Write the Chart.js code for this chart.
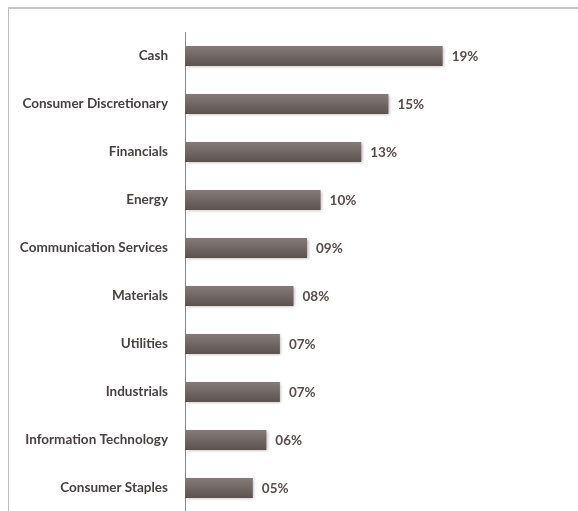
<!DOCTYPE html>
<html>
<head>
<meta charset="utf-8">
<script src="https://cdn.jsdelivr.net/npm/chart.js@4.4.1/dist/chart.umd.min.js"></script>
<style>
  html, body { margin: 0; padding: 0; background: #fff; overflow: hidden; }
  #wrap { position: absolute; left: 0; top: 0; width: 578px; height: 537px; }
  #frame {
    position: absolute; left: 8px; top: 7px; width: 570px; height: 530px;
    border-top: 2px solid #c6c6c6; border-left: 1px solid #bdbdbd;
    pointer-events: none;
  }
</style>
</head>
<body>
<div id="wrap"><canvas id="sectors" width="578" height="537"></canvas></div>
<div id="frame"></div>
<script>
  // Sector weights (%), top to bottom
  const sectors = [
    "Cash",
    "Consumer Discretionary",
    "Financials",
    "Energy",
    "Communication Services",
    "Materials",
    "Utilities",
    "Industrials",
    "Information Technology",
    "Consumer Staples",
  ];
  const weights = [19, 15, 13, 10, 9, 8, 7, 7, 6, 5];

  const FONT = "Lato, 'Open Sans', sans-serif";

  // Vertical gradient per bar, lighter on top
  function barFill(context) {
    const chart = context.chart;
    const yScale = chart.scales.y;
    if (!chart.chartArea || !yScale) return "#6f6563";
    const y = yScale.getPixelForValue(context.dataIndex);
    const g = chart.ctx.createLinearGradient(0, y - 10, 0, y + 10);
    g.addColorStop(0, "#857b78");
    g.addColorStop(1, "#5c5250");
    return g;
  }

  // Soft drop shadow under the bars
  const barShadow = {
    id: "barShadow",
    beforeDatasetDraw(chart) {
      const ctx = chart.ctx;
      ctx.save();
      ctx.shadowColor = "rgba(0, 0, 0, 0.28)";
      ctx.shadowBlur = 3;
      ctx.shadowOffsetX = 1.5;
      ctx.shadowOffsetY = 1.5;
    },
    afterDatasetDraw(chart) {
      chart.ctx.restore();
    },
  };

  // Percentage text at the end of each bar
  const valueLabels = {
    id: "valueLabels",
    afterDatasetsDraw(chart) {
      const ctx = chart.ctx;
      const meta = chart.getDatasetMeta(0);
      ctx.save();
      ctx.font = "bold 13.5px " + FONT;
      ctx.fillStyle = "#564c4b";
      ctx.textAlign = "left";
      ctx.textBaseline = "middle";
      meta.data.forEach((bar, i) => {
        const v = chart.data.datasets[0].data[i];
        ctx.fillText(String(v).padStart(2, "0") + "%", bar.x + 9, bar.y + 1);
      });
      ctx.restore();
    },
  };

  new Chart(document.getElementById("sectors"), {
    type: "bar",
    data: {
      labels: sectors,
      datasets: [{
        data: weights,
        backgroundColor: barFill,
        borderWidth: 0,
        barPercentage: 1,
        categoryPercentage: 0.4167,
      }],
    },
    options: {
      indexAxis: "y",
      responsive: false,
      animation: false,
      layout: { padding: { left: 0, right: 54, top: 32, bottom: 8 } },
      plugins: { legend: { display: false }, tooltip: { enabled: false } },
      scales: {
        x: { display: false, min: 0, max: 25 },
        y: {
          afterFit(scale) { scale.width = 185; },
          grid: { display: false, drawTicks: false },
          border: { display: true, color: "#8a8a8a", width: 1 },
          ticks: {
            padding: 17,
            color: "#474141",
            font: { family: FONT, size: 13.5, weight: "bold" },
          },
        },
      },
    },
    plugins: [barShadow, valueLabels],
  });
</script>
</body>
</html>
